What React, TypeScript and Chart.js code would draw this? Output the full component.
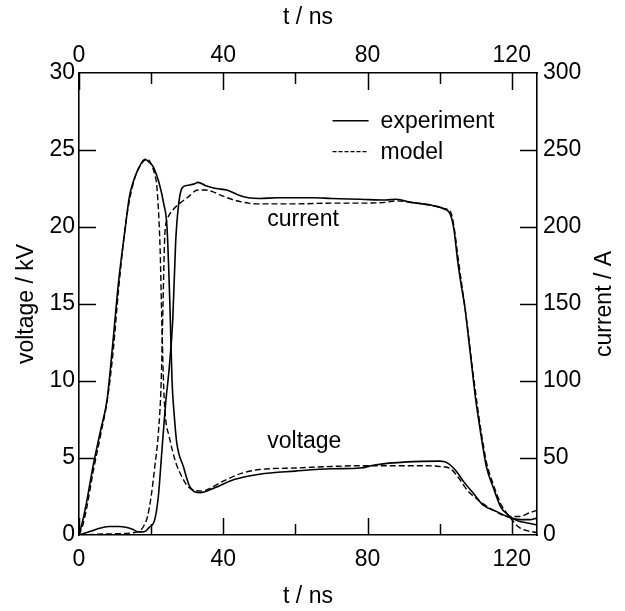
import React, { useEffect, useRef } from 'react';
import { Chart, registerables } from 'chart.js';

Chart.register(...registerables);

const FONT = '"Liberation Sans", Arial, Helvetica, sans-serif';

// ---- data (t in ns, voltage in kV, current in A) ----
const tVoltExp = [0, 1, 2, 4, 6, 7.8, 9.2, 11, 12.8, 14, 15, 16.5, 18.3, 19.5, 20.6, 22.5, 23.5, 24.4, 25.2, 25.8, 26.4, 27.1, 29, 30.8, 33.6, 36, 39, 43, 50, 60, 70, 78, 82, 91, 100, 102, 104.4, 106.7, 109.4, 112, 116, 119.3, 122.5, 125, 127];
const voltExp = [0, 0.9, 2.0, 4.6, 6.8, 8.8, 12, 16.5, 19.9, 22, 22.9, 23.8, 24.4, 24.2, 23.9, 22.6, 21.5, 20, 15, 10, 7.8, 6, 4.4, 3.1, 2.75, 2.9, 3.2, 3.6, 3.95, 4.15, 4.3, 4.35, 4.55, 4.75, 4.8, 4.7, 4.2, 3.45, 2.7, 1.95, 1.5, 1.15, 1.0, 1.0, 1.1];

const tVoltModel = [0, 1, 2, 4, 6, 8, 9.5, 11, 13, 15, 17, 19, 20, 21, 21.6, 22.5, 23, 23.5, 24, 25, 26, 27, 28.5, 30, 32, 34, 36, 40, 45, 50, 60, 70, 78, 85, 95, 100, 103, 105, 107.7, 111.4, 115, 119, 122, 125, 127];
const voltModel = [0, 0.6, 1.6, 4.2, 6.5, 9.0, 12, 16, 20.3, 22.8, 24.0, 24.4, 24.1, 23.4, 22.6, 18.5, 13.5, 9.5, 7.6, 6.4, 5.4, 4.6, 3.8, 3.2, 2.9, 2.85, 3.0, 3.5, 4.0, 4.25, 4.35, 4.45, 4.5, 4.5, 4.5, 4.45, 4.3, 3.8, 2.9, 2.15, 1.6, 1.2, 1.2, 1.45, 1.6];

const tCurExp = [0, 2, 4, 6, 8.6, 11, 13, 15, 16.5, 18, 19.5, 21, 22, 23, 24, 25, 26, 26.8, 27.5, 28.5, 30, 32, 33, 35, 38, 41, 44, 47, 50, 55, 60, 65, 70, 78, 85, 88, 92, 98, 101, 103, 104, 105, 106, 107, 108, 109, 110, 111, 112, 113, 115, 117, 119, 120, 122, 124, 127];
const curExp = [0, 1.5, 3, 4.5, 5.5, 5.5, 5, 3.5, 2, 2, 5, 10, 25, 55, 85, 108, 140, 190, 212, 225, 227, 228, 229, 227, 225, 224, 221, 219, 218.5, 219, 219, 219, 218.5, 218, 217.5, 218, 216, 214, 212, 208, 198, 178, 162, 148, 128, 108, 88, 72, 57, 44, 30, 18, 13, 11, 9, 8, 6.5];

const tCurModel = [0, 5, 10, 15, 17, 18, 19, 20, 21, 22, 22.8, 23.3, 23.8, 24.5, 26, 28, 30, 33, 35, 37, 40, 43, 47, 50, 60, 70, 78, 85, 88, 92, 98, 101, 103, 104, 105, 106, 107, 108, 109, 110, 111, 112, 113, 115, 117, 119, 120, 122, 124, 127];
const curModel = [0, 0.5, 0.8, 1.5, 3, 6, 12, 25, 44, 66, 100, 150, 195, 205, 211, 215.5, 219, 224, 224, 223, 220, 217.5, 215.5, 215, 215, 215.5, 215.5, 216, 217, 216, 214, 212, 210, 200, 182, 165, 148, 130, 110, 92, 75, 60, 47, 32, 20, 13, 10, 5, 3, 1.5];

const timeTicks = [0, 40, 80, 120];
const timeMinorTicks = [20, 60, 100];
const voltTicks = [0, 5, 10, 15, 20, 25, 30];
const curTicks = [0, 50, 100, 150, 200, 250, 300];
const legendLabels = ['experiment', 'model'];
const curveLabels = ['current', 'voltage'];

const toXY = (xs: number[], ys: number[]) => xs.map((x, i) => ({ x, y: ys[i] }));

const DASH = [6, 3];

const decorPlugin = {
  id: 'decor',
  afterDraw(chart: any) {
    const { ctx, chartArea: a, scales } = chart;
    const sx = scales.x;
    const sy = scales.y;
    const sy2 = scales.y2;
    ctx.save();
    ctx.strokeStyle = '#000';
    ctx.lineWidth = 1.5;
    ctx.setLineDash([]);
    ctx.beginPath();
    // inward ticks on time axes (bottom & top)
    const all = [...timeTicks.map((v) => [v, 17]), ...timeMinorTicks.map((v) => [v, 11])];
    for (const [v, len] of all) {
      const px = Math.round(sx.getPixelForValue(v)) + 0.5;
      ctx.moveTo(px, a.bottom);
      ctx.lineTo(px, a.bottom - len);
      ctx.moveTo(px, a.top);
      ctx.lineTo(px, a.top + len);
    }
    for (const v of voltTicks.slice(1, -1)) {
      const py = Math.round(sy.getPixelForValue(v)) + 0.5;
      ctx.moveTo(a.left, py);
      ctx.lineTo(a.left + 17, py);
    }
    for (const v of curTicks.slice(1, -1)) {
      const py = Math.round(sy2.getPixelForValue(v)) + 0.5;
      ctx.moveTo(a.right, py);
      ctx.lineTo(a.right - 17, py);
    }
    ctx.stroke();

    // legend
    ctx.font = `23px ${FONT}`;
    ctx.fillStyle = '#000';
    ctx.textAlign = 'left';
    ctx.textBaseline = 'middle';
    const lx0 = sx.getPixelForValue(70.3);
    const lx1 = sx.getPixelForValue(80.3);
    const ly = [sy.getPixelForValue(26.9), sy.getPixelForValue(24.9)];
    legendLabels.forEach((lab, i) => {
      ctx.beginPath();
      ctx.setLineDash(i === 0 ? [] : [4, 2]);
      ctx.lineWidth = 1.3;
      ctx.moveTo(lx0, ly[i]);
      ctx.lineTo(lx1, ly[i]);
      ctx.stroke();
      ctx.fillText(lab, lx1 + 12, ly[i] + 1);
    });
    ctx.setLineDash([]);

    // curve labels
    const tx = sx.getPixelForValue(52.2);
    ctx.fillText(curveLabels[0], tx, sy.getPixelForValue(20.45));
    ctx.fillText(curveLabels[1], tx, sy.getPixelForValue(6.04));

    // right axis title, reading bottom to top
    ctx.save();
    ctx.translate(605, (a.top + a.bottom) / 2);
    ctx.rotate(-Math.PI / 2);
    ctx.textAlign = 'center';
    ctx.fillText('current / A', 0, 0);
    ctx.restore();

    ctx.restore();
  },
};

export default function App() {
  const ref = useRef<HTMLCanvasElement | null>(null);

  useEffect(() => {
    document.body.style.margin = '0';
    const canvas = ref.current!;
    const tickFont = { family: FONT, size: 23 };
    const setTicks = (vals: number[]) => (s: any) => {
      s.ticks = vals.map((v) => ({ value: v }));
    };
    const chart = new Chart(canvas, {
      type: 'line',
      data: {
        datasets: [
          { label: 'voltage experiment', data: toXY(tVoltExp, voltExp), yAxisID: 'y', borderColor: '#000', borderWidth: 1.6, pointRadius: 0, cubicInterpolationMode: 'monotone' },
          { label: 'voltage model', data: toXY(tVoltModel, voltModel), yAxisID: 'y', borderColor: '#000', borderWidth: 1.4, borderDash: DASH, pointRadius: 0, cubicInterpolationMode: 'monotone' },
          { label: 'current experiment', data: toXY(tCurExp, curExp), yAxisID: 'y2', borderColor: '#000', borderWidth: 1.6, pointRadius: 0, cubicInterpolationMode: 'monotone' },
          { label: 'current model', data: toXY(tCurModel, curModel), yAxisID: 'y2', borderColor: '#000', borderWidth: 1.4, borderDash: DASH, pointRadius: 0, cubicInterpolationMode: 'monotone' },
        ],
      },
      options: {
        responsive: false,
        animation: false,
        layout: { padding: 0 },
        plugins: { legend: { display: false }, tooltip: { enabled: false } },
        scales: {
          x: {
            type: 'linear', position: 'bottom', min: 0, max: 127,
            afterBuildTicks: setTicks(timeTicks),
            afterFit: (s: any) => { s.height = 76; },
            grid: { display: false, drawTicks: false },
            border: { display: true, color: '#000', width: 1.6 },
            ticks: { font: tickFont, color: '#000', padding: 11, maxRotation: 0 },
            title: { display: true, text: 't / ns', font: tickFont, color: '#000', padding: { top: 0, bottom: 1 } },
          },
          x2: {
            type: 'linear', position: 'top', min: 0, max: 127,
            afterBuildTicks: setTicks(timeTicks),
            afterFit: (s: any) => { s.height = 73; },
            grid: { display: false, drawTicks: false },
            border: { display: true, color: '#000', width: 1.6 },
            ticks: { font: tickFont, color: '#000', padding: 4, maxRotation: 0 },
            title: { display: true, text: 't / ns', font: tickFont, color: '#000', padding: { top: 4, bottom: 0 } },
          },
          y: {
            type: 'linear', position: 'left', min: 0, max: 30,
            afterBuildTicks: setTicks(voltTicks),
            afterFit: (s: any) => { s.width = 79; },
            grid: { display: false, drawTicks: false },
            border: { display: true, color: '#000', width: 1.6 },
            ticks: { font: tickFont, color: '#000', padding: 4 },
            title: { display: true, text: 'voltage / kV', font: tickFont, color: '#000', padding: { top: 13, bottom: 0 } },
          },
          y2: {
            type: 'linear', position: 'right', min: 0, max: 300,
            afterBuildTicks: setTicks(curTicks),
            afterFit: (s: any) => { s.width = 88; },
            grid: { display: false, drawTicks: false },
            border: { display: true, color: '#000', width: 1.6 },
            ticks: { font: tickFont, color: '#000', padding: 6 },
          },
        },
      },
      plugins: [decorPlugin],
    });
    return () => chart.destroy();
  }, []);

  return (
    <div style={{ width: 625, height: 611 }}>
      <canvas ref={ref} width={625} height={611} />
    </div>
  );
}
